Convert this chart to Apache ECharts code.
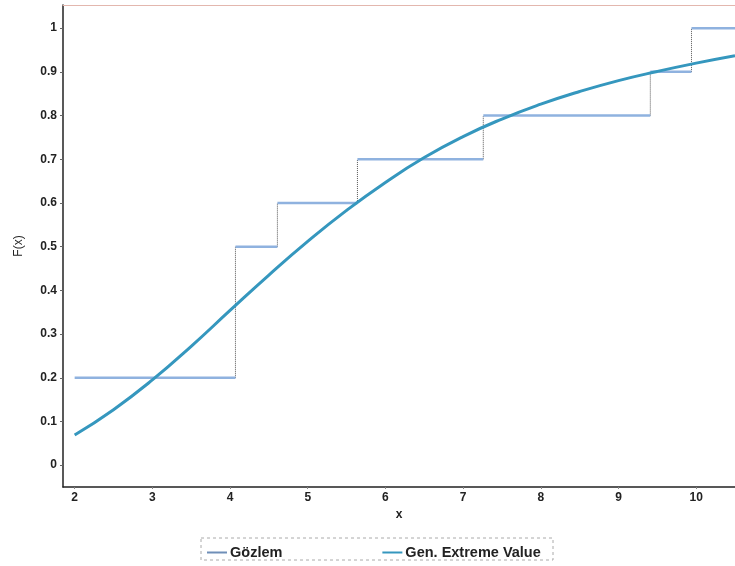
<!DOCTYPE html>
<html><head><meta charset="utf-8">
<script src="https://cdn.jsdelivr.net/npm/echarts@6/dist/echarts.min.js"></script>
<style>html,body{margin:0;padding:0;background:#fff}#c{width:735px;height:566px}</style>
</head><body><div id="c"></div>
<script>
// Step function (empirical CDF, "Gözlem")
var stepX = [2, 4.07, 4.61, 5.64, 7.26, 9.41, 9.94, 10.5];
var stepY = [0.2, 0.5, 0.6, 0.7, 0.8, 0.9, 1.0];
// Fitted GEV CDF
var curveX = [2, 2.5, 3, 3.5, 4, 4.5, 5, 5.5, 6, 6.5, 7, 7.5, 8, 8.5, 9, 9.5, 10, 10.5];
var curveY = [0.069, 0.127, 0.195, 0.272, 0.354, 0.435, 0.512, 0.583, 0.647, 0.704, 0.752, 0.792, 0.826, 0.855, 0.880, 0.901, 0.920, 0.937];
var xTicks = [2, 3, 4, 5, 6, 7, 8, 9, 10];
var yTicks = [0, 0.1, 0.2, 0.3, 0.4, 0.5, 0.6, 0.7, 0.8, 0.9, 1];

var horiz = [], vert = [];
for (var i = 0; i < stepY.length; i++) {
  horiz.push([stepX[i], stepY[i]], [stepX[i + 1], stepY[i]], [stepX[i + 1], '-']);
  if (i + 1 < stepY.length) {
    vert.push([stepX[i + 1], stepY[i]], [stepX[i + 1], stepY[i + 1]], [stepX[i + 1], '-']);
  }
}
var curve = curveX.map(function (x, k) { return [x, curveY[k]]; });

var font = 'Liberation Sans, Arial, sans-serif';
var chart = echarts.init(document.getElementById('c'));
chart.setOption({
  animation: false,
  grid: { left: 63, right: 0, top: 5, bottom: 79 },
  xAxis: [{
    type: 'value', min: 1.85, max: 10.5,
    name: 'x', nameLocation: 'middle', nameGap: 19,
    nameTextStyle: { fontFamily: font, fontWeight: 'bold', fontSize: 12, color: '#222' },
    axisLine: { onZero: false, lineStyle: { color: '#222', width: 1.5 } },
    axisTick: { show: true, length: 2, customValues: xTicks, lineStyle: { color: '#888' } },
    axisLabel: { customValues: xTicks, margin: 5, fontFamily: font, fontWeight: 'bold', fontSize: 12, color: '#222' },
    splitLine: { show: false }
  }, {
    type: 'value', position: 'top', min: 1.85, max: 10.5,
    axisLine: { show: true, onZero: false, lineStyle: { color: '#e3b7ae', width: 1 } },
    axisTick: { show: false }, axisLabel: { show: false }, splitLine: { show: false }
  }],
  yAxis: {
    type: 'value', min: -0.05, max: 1.053,
    name: 'F(x)', nameLocation: 'middle', nameGap: 38, nameRotate: 90,
    nameTextStyle: { fontFamily: font, fontSize: 12, color: '#222' },
    axisLine: { show: true, onZero: false, lineStyle: { color: '#222', width: 1.5 } },
    axisTick: { show: true, length: 3, customValues: yTicks, lineStyle: { color: '#666' } },
    axisLabel: { customValues: yTicks, margin: 6, fontFamily: font, fontWeight: 'bold', fontSize: 12, color: '#222' },
    splitLine: { show: false }
  },
  legend: {
    left: 202, top: 540, itemGap: 100, itemWidth: 20, itemHeight: 2,
    textStyle: { fontFamily: font, fontWeight: 'bold', fontSize: 14.5, color: '#222', padding: [0, 0, 0, -2] },
    data: [{ name: 'Gözlem', icon: 'rect' }, { name: 'Gen. Extreme Value', icon: 'rect' }]
  },
  graphic: [{
    type: 'rect', shape: { x: 201, y: 538, width: 352, height: 22 },
    style: { fill: 'none', stroke: '#aaa', lineWidth: 1, lineDash: [3, 3] }, silent: true
  }],
  series: [{
    name: 'Gözlem', type: 'line', data: vert, showSymbol: false, connectNulls: false,
    color: '#6f8fb8',
    lineStyle: { color: '#555', width: 1, type: 'dotted' }, z: 2
  }, {
    name: 'Gözlem', type: 'line', data: horiz, showSymbol: false, connectNulls: false,
    color: '#6f8fb8',
    lineStyle: { color: '#8fb2df', width: 2.5 }, z: 3
  }, {
    name: 'Gen. Extreme Value', type: 'line', data: curve, smooth: true, showSymbol: false,
    color: '#3597be',
    lineStyle: { color: '#3597be', width: 3 }, z: 4
  }]
});
</script></body></html>
